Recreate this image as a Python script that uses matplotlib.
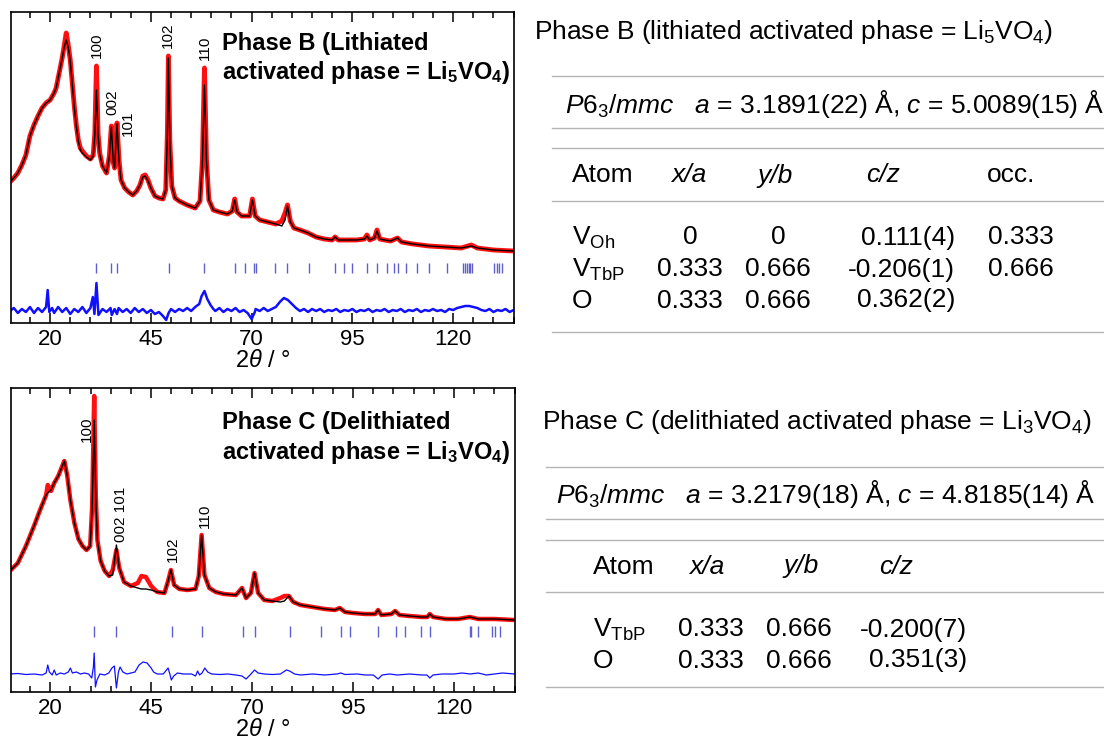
import matplotlib
matplotlib.use("Agg")
import matplotlib.pyplot as plt
from matplotlib.lines import Line2D
from matplotlib.ticker import MultipleLocator

plt.rcParams['font.family'] = ['Liberation Sans', 'DejaVu Sans']
plt.rcParams['mathtext.fontset'] = 'custom'
plt.rcParams['mathtext.rm'] = 'Liberation Sans'
plt.rcParams['mathtext.it'] = 'Liberation Sans:italic'
plt.rcParams['mathtext.bf'] = 'Liberation Sans:bold'

# ---------------- Phase B data ----------------
x_b = [10, 11, 12, 13, 14, 15, 16, 17, 18, 19, 20, 21, 21.5, 22, 22.5, 23, 23.5, 24, 24.5, 25,
       25.5, 26, 26.5, 27, 27.5, 28, 29, 30, 30.7, 31.1, 31.5, 31.9, 32.3, 33, 34, 34.7, 35.2,
       35.7, 36.0, 36.6, 37.1, 37.6, 38.5, 39.5, 40.5, 41.5, 42.3, 43, 43.6, 44.3, 45, 46, 47,
       48, 48.7, 49.1, 49.35, 49.7, 50.2, 51, 52, 54, 56, 57.2, 57.8, 58.3, 58.8, 59.4, 60.5,
       62, 64, 65.2, 65.8, 66.4, 67.5, 69.5, 70.2, 70.9, 72, 74, 76, 77.5, 78.3, 78.9, 79.6,
       80.5, 82, 84, 86, 88, 90, 90.7, 91.5, 94, 96, 98, 98.6, 99.3, 100.5, 101.1, 101.8, 103,
       104.5, 106.2, 107.2, 110, 114, 118, 122, 124.5, 126, 130, 135]
obs_b = [141, 145, 150, 158, 168, 187, 198, 207, 215, 220, 223, 230, 235, 245, 255, 265, 277,
         290, 278, 263, 240, 217, 198, 183, 175, 172, 167, 164, 168, 190, 257, 190, 170, 157,
         150, 167, 197, 160, 155, 200, 163, 143, 135, 131, 128, 132, 138, 147, 148, 143, 135,
         127, 125, 124, 133, 190, 267, 183, 137, 125, 122, 118, 115, 122, 163, 255, 163, 123,
         113, 111, 109, 112, 124, 111, 107, 107, 124, 107, 103, 101, 99, 102, 110, 118, 102,
         95, 93, 90, 86, 84, 83, 86, 83, 83, 83, 84, 88, 83, 85, 93, 84, 83, 82, 85, 81, 79,
         77, 76, 75, 78, 75, 73, 72]
calc_b = [141, 145, 150, 158, 168, 187, 198, 207, 215, 220, 223, 230, 235, 245, 255, 265, 276,
          283, 276, 262, 239, 216, 197, 182, 173, 170, 166, 163, 167, 188, 233, 188, 169, 157,
          150, 166, 196, 160, 155, 199, 162, 143, 135, 131, 128, 132, 138, 146, 147, 142, 135,
          127, 125, 124, 133, 189, 265, 182, 137, 125, 122, 118, 115, 122, 162, 238, 162, 123,
          113, 111, 109, 112, 123, 111, 107, 107, 123, 107, 103, 101, 99, 97, 103, 117, 101,
          95, 93, 90, 86, 84, 83, 86, 83, 83, 83, 84, 87, 83, 85, 92, 84, 83, 82, 85, 81, 79,
          77, 76, 75, 77, 75, 73, 72]
diff_b_x = [10, 11, 12, 13, 14, 15, 16, 17, 18, 19, 19.4, 19.8, 20.5, 21, 22, 23, 24, 25, 26, 27,
            28, 29, 30, 30.6, 31, 31.5, 32, 33, 34, 35, 35.3, 36, 36.6, 37, 38, 39, 40, 41, 42,
            43, 44, 45, 46, 47, 48, 48.8, 49.4, 50, 51, 52, 53, 54, 55, 56, 57, 57.6, 58.3, 59,
            59.8, 60.5, 61, 62, 63, 64, 65, 66, 67, 68, 69, 70, 70.8, 71, 72, 73, 74, 75, 76,
            77, 78, 79, 80, 81, 82, 83, 84, 85, 86, 87, 88, 89, 90, 91, 92, 93, 94, 95, 96, 97,
            98, 99, 100, 101, 102, 103, 104, 105, 106, 107, 108, 109, 110, 111, 112, 113, 114,
            115, 116, 117, 118, 119, 120, 121, 122, 123, 124, 125, 126, 127, 128, 129, 130, 131,
            132, 133, 134, 135]
diff_b_y = [12, 15, 10, 14, 11, 16, 10, 15, 11, 16, 33, 11, 15, 10, 16, 11, 15, 9, 14, 11,
            16, 10, 15, 26, 9, 40, 8, 14, 11, 15, 8, 14, 9, 15, 11, 14, 10, 15, 11,
            14, 10, 13, 9, 11, 7, 3, 10, 14, 11, 14, 12, 15, 12, 16, 19, 27, 32, 24,
            18, 14, 12, 15, 11, 14, 12, 15, 11, 13, 10, 4, 11, 14, 12, 15, 12, 14, 16,
            21, 25, 23, 19, 15, 12, 14, 11, 14, 12, 14, 11, 13, 12, 14, 11, 13, 12, 14, 11, 13,
            12, 14, 11, 13, 12, 14, 11, 13, 12, 14, 11, 13, 12, 14, 11, 13, 12,
            14, 12, 13, 11, 14, 13, 15, 16, 17, 17, 16, 15, 13, 12, 14, 11, 13,
            12, 14, 11, 13]
ticks_b = [31.5, 35.2, 36.6, 49.6, 58.3, 65.8, 68.4, 70.5, 71.1, 75.8, 78.9, 84.2, 90.7, 92.8,
           94.9, 98.7, 101.1, 103.7, 105.4, 106.2, 108.3, 111.0, 114.0, 118.5, 122.4, 123.0,
           123.4, 123.9, 124.3, 124.7, 130.2, 130.8, 131.5, 132.1]
hkl_b = ['100', '002', '101', '102', '110']
hkl_b_x = [31.6, 35.4, 39.3, 49.3, 58.4]
hkl_b_y = [265, 208, 187, 275, 263]

# ---------------- Phase C data ----------------
x_c = [10, 12, 14, 16, 17.5, 19, 19.4, 20.2, 21, 22, 22.8, 23.5, 24.2, 25, 26, 27, 28, 29, 29.9,
       30.4, 30.9, 31.3, 31.7, 32.5, 33.5, 34.6, 35.5, 36.4, 37.1, 38.3, 40, 41.7, 42.6, 43.7,
       45, 46.5, 48.3, 49.2, 49.9, 50.7, 52, 54, 56, 56.8, 57.5, 58.2, 59.4, 61, 63, 66, 67.5,
       68.5, 69.7, 70.6, 71.5, 73, 75, 77, 78, 79.1, 80.2, 82, 85, 88, 90.5, 91.7, 93, 95, 98,
       100.5, 101.2, 102, 104.5, 105.4, 106.5, 109, 112, 113.4, 114, 114.8, 118, 121, 123.9,
       126, 130, 135]
obs_c = [121, 129, 146, 166, 182, 197, 207, 201, 209, 216, 224, 231, 217, 192, 169, 153, 146,
         142, 146, 186, 296, 196, 152, 131, 121, 116, 122, 142, 124, 110, 106, 109, 116, 115,
         106, 100, 99, 111, 122, 107, 103, 102, 103, 116, 157, 117, 104, 100, 98, 97, 104, 94,
         99, 119, 99, 92, 91, 94, 96, 96, 90, 87, 85, 83, 82, 84, 80, 79, 78, 78, 82, 77, 78,
         81, 77, 76, 75, 75, 78, 75, 73, 73, 75, 73, 73, 72]
calc_c = [121, 129, 146, 166, 182, 197, 199, 202, 209, 216, 224, 231, 217, 192, 169, 153, 146,
          142, 146, 184, 272, 194, 151, 131, 121, 116, 117, 147, 124, 110, 106, 104, 103, 103,
          102, 100, 99, 111, 122, 107, 103, 102, 103, 116, 157, 117, 104, 100, 98, 97, 104, 94,
          99, 119, 99, 92, 91, 90, 91, 96, 90, 87, 85, 83, 82, 84, 80, 79, 78, 78, 82, 77, 78,
          81, 77, 76, 75, 75, 78, 75, 73, 73, 75, 73, 73, 72]
diff_c_x = [10, 12, 14, 16, 18, 19, 19.4, 19.8, 20.5, 21, 21.5, 22.5, 23.5, 24.5, 25, 25.5, 26.5,
            27.5, 28.5, 29.5, 30.3, 30.7, 30.9, 31.2, 31.6, 32.3, 33.5, 34.5, 35.3, 35.9, 36.4,
            36.9, 37.3, 38, 39, 40, 41, 42, 43, 44, 45, 45.6, 46.5, 48, 49.2, 49.7, 50, 50.6,
            51.5, 53, 55, 56, 56.5, 57, 57.6, 58.3, 59, 60, 62, 64, 66, 67.5, 68.5, 69.5, 70.6,
            71.5, 73, 75, 77, 78.5, 79.3, 80.5, 82, 85, 88, 91, 92, 93, 96, 98, 100, 101.2,
            102.2, 104, 106, 109, 112, 113.3, 114, 114.8, 117, 120, 122, 124, 126, 128, 130,
            132, 135]
diff_c_y = [18, 18.5, 17.5, 18, 17, 19, 27, 20, 17, 22, 17, 19, 18, 20, 24, 19, 20,
            18, 19, 18, 14, 25, 39, 5, 12, 18, 17, 19, 24, 26, 4,
            20, 25, 20, 18, 19, 20, 27, 30, 29, 24, 20, 18, 18, 24, 17, 12, 16,
            19, 18, 18, 16, 21, 17, 19, 24, 20, 18, 17.5, 18, 17, 16, 13, 17, 22,
            19, 18, 17.5, 18, 22, 21, 18, 17, 18, 17, 18, 19, 17.5, 18, 17, 17, 13,
            17, 18, 17, 18, 17, 17, 14, 17, 18, 18, 19, 18, 19, 17, 18,
            19, 18]
ticks_c = [30.9, 36.4, 50.1, 57.5, 67.7, 70.7, 79.3, 87.1, 91.9, 94.3, 101.2, 105.7, 107.8,
           111.9, 114.0, 123.9, 124.3, 126.0, 129.5, 130.1, 131.3]
hkl_c = ['100', '002 101', '102', '110']
hkl_c_x = [29.2, 37.6, 50.5, 58.2]
hkl_c_y = [250, 150, 130, 164]

# ---------------- Tables ----------------
title_b = 'Phase B (lithiated activated phase = Li$_5$VO$_4$)'
cell_b = r'$\mathit{P6_3/mmc}$   $\mathit{a}$ = 3.1891(22) Å, $\mathit{c}$ = 5.0089(15) Å'
header_b = ['Atom', 'x/a', 'y/b', 'c/z', 'occ.']
atoms_b = [r'V$_{\mathrm{Oh}}$', r'V$_{\mathrm{TbP}}$', 'O']
xa_b = ['0', '0.333', '0.333']
yb_b = ['0', '0.666', '0.666']
cz_b = ['0.111(4)', '-0.206(1)', '0.362(2)']
occ_b = ['0.333', '0.666', '']

title_c = 'Phase C (delithiated activated phase = Li$_3$VO$_4$)'
cell_c = r'$\mathit{P6_3/mmc}$   $\mathit{a}$ = 3.2179(18) Å, $\mathit{c}$ = 4.8185(14) Å'
header_c = ['Atom', 'x/a', 'y/b', 'c/z']
atoms_c = [r'V$_{\mathrm{TbP}}$', 'O']
xa_c = ['0.333', '0.333']
yb_c = ['0.666', '0.666']
cz_c = ['-0.200(7)', '0.351(3)']

W, H = 1104, 742
fig = plt.figure(figsize=(W / 100, H / 100), dpi=100)


def px_axes(l, t, r, b):
    return fig.add_axes([l / W, 1 - b / H, (r - l) / W, (b - t) / H])


def style_axes(ax, ymax):
    ax.set_xlim(10.3, 135.1)
    ax.set_ylim(0, ymax)
    ax.set_yticks([])
    ax.xaxis.set_major_locator(MultipleLocator(25))
    ax.xaxis.set_minor_locator(MultipleLocator(5))
    ax.set_xticks([20, 45, 70, 95, 120])
    ax.tick_params(axis='x', which='both', direction='in', top=True, width=1.1,
                   labelsize=16, pad=4)
    ax.tick_params(axis='x', which='major', length=7)
    ax.tick_params(axis='x', which='minor', length=4)
    for s in ax.spines.values():
        s.set_linewidth(1.2)
    ax.set_xlabel(r'$\mathit{2\theta}$ / °', fontsize=17, labelpad=0)


def draw_panel(ax, x, obs, calc, dx, dy, ticks, tick_lo, tick_hi, red_lw, diff_lw):
    ax.plot(x, obs, color='#ff1010', lw=red_lw, solid_joinstyle='round',
            solid_capstyle='round', zorder=2)
    ax.plot(x, calc, color='black', lw=1.0, zorder=3)
    ax.vlines(ticks, tick_lo, tick_hi, color='#6060d0', lw=1.0, zorder=2)
    ax.plot(dx, dy, color='#1010ff', lw=diff_lw, zorder=2)


ax_b = px_axes(11, 12, 514, 323)
draw_panel(ax_b, x_b, obs_b, calc_b, diff_b_x, diff_b_y, ticks_b, 50, 60, 3.5, 1.8)
style_axes(ax_b, 311)
for lab, hx, hy in zip(hkl_b, hkl_b_x, hkl_b_y):
    ax_b.text(hx, hy, lab, rotation=90, ha='center', va='bottom', fontsize=11)
ax_b.text(0.419, 0.90, 'Phase B (Lithiated', transform=ax_b.transAxes, fontsize=17,
          fontweight='bold', ha='left', va='center')
ax_b.text(0.419, 0.807, r'activated phase = Li$_\mathbf{5}$VO$_\mathbf{4}$)',
          transform=ax_b.transAxes, fontsize=17, fontweight='bold', ha='left', va='center')

ax_c = px_axes(11, 388, 515, 692)
draw_panel(ax_c, x_c, obs_c, calc_c, diff_c_x, diff_c_y, ticks_c, 55, 65.7, 3.2, 0.9)
style_axes(ax_c, 304)
for lab, hx, hy in zip(hkl_c, hkl_c_x, hkl_c_y):
    ax_c.text(hx, hy, lab, rotation=90, ha='center', va='bottom', fontsize=11)
ax_c.text(0.419, 0.885, 'Phase C (Delithiated', transform=ax_c.transAxes, fontsize=17,
          fontweight='bold', ha='left', va='center')
ax_c.text(0.419, 0.789, r'activated phase = Li$_\mathbf{3}$VO$_\mathbf{4}$)',
          transform=ax_c.transAxes, fontsize=17, fontweight='bold', ha='left', va='center')

# ---------------- table drawing ----------------
TFS = 19


def ftext(xp, yp, s, **kw):
    kw.setdefault('fontsize', TFS)
    kw.setdefault('va', 'center_baseline')
    fig.text(xp / W, 1 - yp / H, s, **kw)


def hline(x0, x1, yp):
    fig.add_artist(Line2D([x0 / W, x1 / W], [1 - yp / H, 1 - yp / H],
                          transform=fig.transFigure, color='#b4b4b4', lw=1.0))


# Phase B table
ftext(534, 28, title_b, ha='left')
for yp in [76, 128, 148, 201, 332]:
    hline(552, 1104, yp)
ftext(565, 100, cell_b, ha='left')
hx_b = [572, 671, 758, 866, 987]
for i, (h, hx) in enumerate(zip(header_b, hx_b)):
    ftext(hx, 173, h, ha='left', style='italic' if 0 < i < 4 else 'normal')
rows_y_b = [235, 267, 298]
for i, yp in enumerate(rows_y_b):
    ftext(572, yp, atoms_b[i], ha='left')
    ftext(690, yp, xa_b[i], ha='center')
    ftext(778, yp, yb_b[i], ha='center')
    ftext(955, yp, cz_b[i], ha='right')
    ftext(1021, yp, occ_b[i], ha='center')

# Phase C table
ftext(542, 418, title_c, ha='left')
for yp in [467, 519, 540, 592, 687]:
    hline(546, 1104, yp)
ftext(556, 490, cell_c, ha='left')
hx_c = [593, 689, 783, 879]
for i, (h, hx) in enumerate(zip(header_c, hx_c)):
    ftext(hx, 564, h, ha='left', style='italic' if i > 0 else 'normal')
rows_y_c = [627, 658]
for i, yp in enumerate(rows_y_c):
    ftext(593, yp, atoms_c[i], ha='left')
    ftext(711, yp, xa_c[i], ha='center')
    ftext(799, yp, yb_c[i], ha='center')
    ftext(967, yp, cz_c[i], ha='right')

fig.savefig('out.png', dpi=100)
